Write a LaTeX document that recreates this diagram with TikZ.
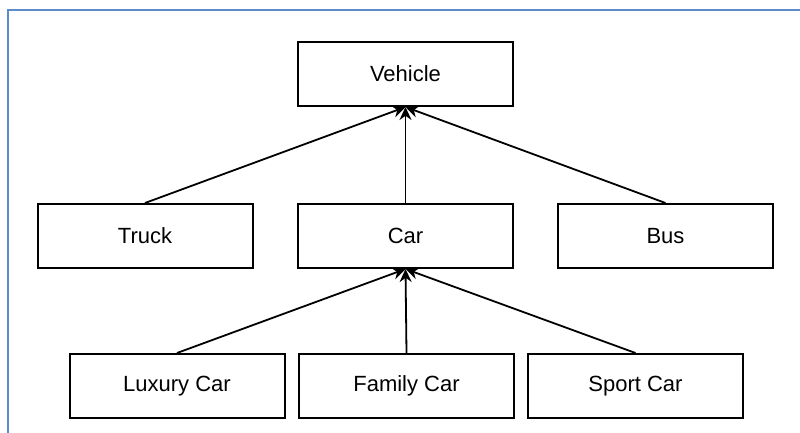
\documentclass[tikz,border=0pt]{standalone}
\usepackage{fontspec}
\setmainfont{Liberation Sans}
\usetikzlibrary{arrows.meta}
\definecolor{framecol}{HTML}{5B8BC9}
\tikzset{
  classbox/.style={draw=black, line width=2pt, fill=white,
    minimum width=215pt, minimum height=64pt, inner sep=0pt,
    font=\fontsize{22}{26}\selectfont},
  inherit/.style={line width=1.8pt, -{Stealth[length=13pt,width=12pt]}},
}
\begin{document}
\begin{tikzpicture}[x=1pt,y=-1pt]
  \useasboundingbox (0,0) rectangle (800,433);
  % outer frame
  \draw[framecol, line width=2.6pt] (8,440) -- (8,10) -- (810,10);

  % hierarchy
  \node[classbox] (vehicle) at (405.5,74)  {Vehicle};
  \node[classbox] (truck)   at (145,236)   {Truck};
  \node[classbox] (car)     at (405.5,236) {Car};
  \node[classbox] (bus)     at (665.5,236) {Bus};
  \node[classbox] (luxury)  at (177,386)   {Luxury Car};
  \node[classbox] (family)  at (406.5,386) {Family Car};
  \node[classbox] (sport)   at (635.5,386) {Sport Car};

  % generalisation links
  \draw[inherit] (truck.north)  -- (vehicle.south);
  \draw[inherit] (car.north)    -- (vehicle.south);
  \draw[inherit] (bus.north)    -- (vehicle.south);
  \draw[inherit] (luxury.north) -- (car.south);
  \draw[inherit] (family.north) -- (car.south);
  \draw[inherit] (sport.north)  -- (car.south);
\end{tikzpicture}
\end{document}
